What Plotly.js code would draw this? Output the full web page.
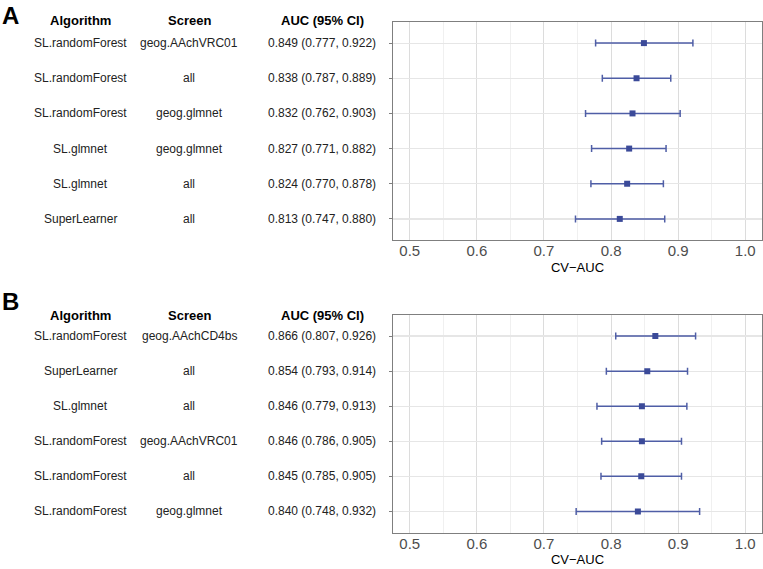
<!DOCTYPE html>
<html>
<head>
<meta charset="utf-8">
<script src="https://cdn.plot.ly/plotly-3.0.1.min.js"></script>
<style>
  html, body { margin: 0; padding: 0; background: #fff; }
  #chart { width: 763px; height: 569px; }
</style>
</head>
<body>
<div id="chart"></div>
<script>
// --- Data: panel A ---
const algA = ['SL.randomForest', 'SL.randomForest', 'SL.randomForest', 'SL.glmnet', 'SL.glmnet', 'SuperLearner'];
const screenA = ['geog.AAchVRC01', 'all', 'geog.glmnet', 'geog.glmnet', 'all', 'all'];
const aucA = [0.849, 0.838, 0.832, 0.827, 0.824, 0.813];
const lowA = [0.777, 0.787, 0.762, 0.771, 0.770, 0.747];
const highA = [0.922, 0.889, 0.903, 0.882, 0.878, 0.880];

// --- Data: panel B ---
const algB = ['SL.randomForest', 'SuperLearner', 'SL.glmnet', 'SL.randomForest', 'SL.randomForest', 'SL.randomForest'];
const screenB = ['geog.AAchCD4bs', 'all', 'all', 'geog.AAchVRC01', 'all', 'geog.glmnet'];
const aucB = [0.866, 0.854, 0.846, 0.846, 0.845, 0.840];
const lowB = [0.807, 0.793, 0.779, 0.786, 0.785, 0.748];
const highB = [0.926, 0.914, 0.913, 0.905, 0.905, 0.932];

const headers = ['Algorithm', 'Screen', 'AUC (95% CI)'];
const xTicks = [0.5, 0.6, 0.7, 0.8, 0.9, 1.0];
const xTickText = ['0.5', '0.6', '0.7', '0.8', '0.9', '1.0'];

const W = 763, H = 569;
const colX = [80 / W, 189 / W, 322 / W];
const pointColor = '#3b4a99';
const barColor = '#4f5ea6';

function rowKeys(alg, scr) {
    return alg.map((a, i) => a + ' | ' + scr[i]);
}

function makeTrace(alg, scr, auc, lo, hi, xa, ya) {
    return {
        type: 'scatter',
        mode: 'markers',
        x: auc,
        y: rowKeys(alg, scr),
        xaxis: xa,
        yaxis: ya,
        marker: { symbol: 'square', size: 6, color: pointColor },
        error_x: {
            type: 'data',
            symmetric: false,
            array: hi.map((h, i) => h - auc[i]),
            arrayminus: lo.map((l, i) => auc[i] - l),
            color: barColor,
            thickness: 1.5,
            width: 3.5
        },
        hoverinfo: 'x+y',
        showlegend: false
    };
}

function tableNotes(alg, scr, auc, lo, hi, yref, headerY) {
    const notes = [];
    const keys = rowKeys(alg, scr);
    const bodyFont = { family: 'Liberation Sans, Arial, sans-serif', size: 12, color: '#222' };
    headers.forEach((h, c) => {
        notes.push({
            text: '<b>' + h + '</b>', xref: 'paper', yref: 'paper',
            x: colX[c], y: headerY, xanchor: 'center', yanchor: 'middle', showarrow: false,
            font: { family: 'Liberation Sans, Arial, sans-serif', size: 13, color: '#000' }
        });
    });
    keys.forEach((k, i) => {
        const cells = [alg[i], scr[i],
            auc[i].toFixed(3) + ' (' + lo[i].toFixed(3) + ', ' + hi[i].toFixed(3) + ')'];
        cells.forEach((t, c) => {
            notes.push({
                text: t, xref: 'paper', yref: yref,
                x: colX[c], y: k, xanchor: 'center', yanchor: 'middle', showarrow: false,
                font: bodyFont
            });
        });
    });
    return notes;
}

const domA = [(H - 240) / H, (H - 22) / H];
const domB = [(H - 532.5) / H, (H - 315) / H];
const xDom = [393 / W, 762 / W];

function xAxis(anchor) {
    return {
        domain: xDom,
        anchor: anchor,
        range: [0.475, 1.025],
        tickvals: xTicks,
        ticktext: xTickText,
        ticks: '',
        ticklabelstandoff: -3,
        tickfont: { family: 'Liberation Sans, Arial, sans-serif', size: 15, color: '#4d4d4d' },
        showgrid: true,
        gridcolor: '#dcdcdc',
        gridwidth: 1,
        minor: { dtick: 0.05, tick0: 0.5, showgrid: true, gridcolor: '#f0f0f0', gridwidth: 1, ticks: '' },
        zeroline: false,
        showline: true,
        linecolor: '#7f7f7f',
        linewidth: 1,
        mirror: true,
        title: { text: 'CV\u2212AUC', standoff: 4,
                 font: { family: 'Liberation Sans, Arial, sans-serif', size: 13, color: '#000' } },
        fixedrange: true
    };
}

function yAxis(anchor, dom, n) {
    return {
        domain: dom,
        anchor: anchor,
        type: 'category',
        range: [n - 1 + 0.6, -0.6],
        showticklabels: false,
        ticks: 'outside',
        ticklen: 3,
        tickcolor: '#7f7f7f',
        showgrid: true,
        gridcolor: '#e6e6e6',
        gridwidth: 1.2,
        zeroline: false,
        showline: true,
        linecolor: '#7f7f7f',
        linewidth: 1,
        mirror: true,
        fixedrange: true
    };
}

const traces = [
    makeTrace(algA, screenA, aucA, lowA, highA, 'x', 'y'),
    makeTrace(algB, screenB, aucB, lowB, highB, 'x2', 'y2')
];

const annotations = []
    .concat(tableNotes(algA, screenA, aucA, lowA, highA, 'y', (H - 21) / H))
    .concat(tableNotes(algB, screenB, aucB, lowB, highB, 'y2', (H - 315) / H))
    .concat([
        { text: '<b>A</b>', xref: 'paper', yref: 'paper', x: 0, y: (H - 15) / H,
          xanchor: 'left', yanchor: 'middle', showarrow: false,
          font: { family: 'Liberation Sans, Arial, sans-serif', size: 24, color: '#000' } },
        { text: '<b>B</b>', xref: 'paper', yref: 'paper', x: 0, y: (H - 301) / H,
          xanchor: 'left', yanchor: 'middle', showarrow: false,
          font: { family: 'Liberation Sans, Arial, sans-serif', size: 24, color: '#000' } }
    ]);

const layout = {
    width: W,
    height: H,
    margin: { l: 0, r: 0, t: 0, b: 0 },
    paper_bgcolor: '#fff',
    plot_bgcolor: '#fff',
    xaxis: xAxis('y'),
    yaxis: yAxis('x', domA, algA.length),
    xaxis2: xAxis('y2'),
    yaxis2: yAxis('x2', domB, algB.length),
    annotations: annotations,
    showlegend: false
};

Plotly.newPlot('chart', traces, layout, { displayModeBar: false, staticPlot: true });
</script>
</body>
</html>
